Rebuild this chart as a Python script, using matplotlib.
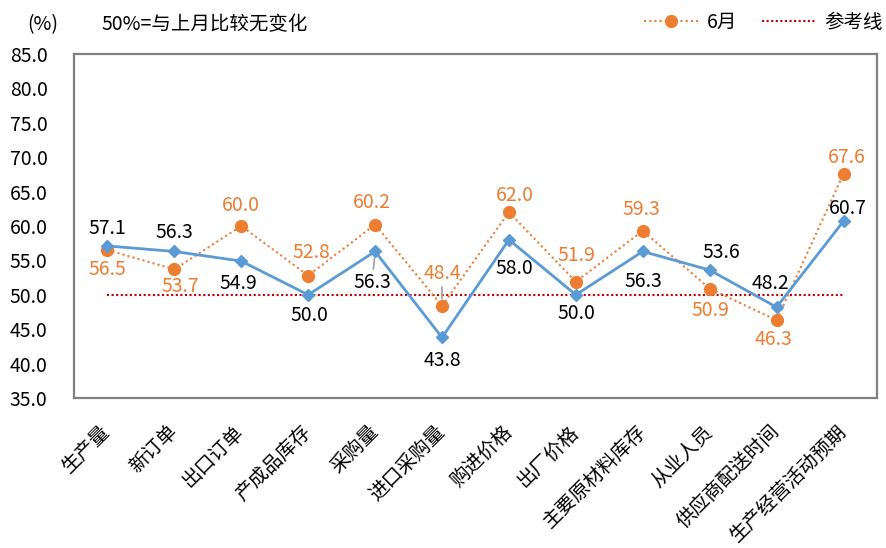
import matplotlib
matplotlib.use("Agg")
import matplotlib.pyplot as plt
from matplotlib.lines import Line2D

plt.rcParams['font.family'] = ['Noto Sans CJK SC', 'DejaVu Sans']

categories = ["生产量", "新订单", "出口订单", "产成品库存", "采购量", "进口采购量",
              "购进价格", "出厂价格", "主要原材料库存", "从业人员", "供应商配送时间", "生产经营活动预期"]
july = [57.1, 56.3, 54.9, 50.0, 56.3, 43.8, 58.0, 50.0, 56.3, 53.6, 48.2, 60.7]
june = [56.5, 53.7, 60.0, 52.8, 60.2, 48.4, 62.0, 51.9, 59.3, 50.9, 46.3, 67.6]
reference = [50.0] * len(categories)
yticks = [35, 40, 45, 50, 55, 60, 65, 70, 75, 80, 85]

# label offsets in pixels (dx, dy), dy positive = up
july_off = [(0, 17), (0, 19), (-3, -22), (1, -21), (-3, -31), (0, -23),
            (5, -29), (1, -19), (1, -30), (12, 18), (-6, 24), (4, 13)]
june_off = [(0, -19), (6, -17), (0, 20), (3, 23), (-3, 22), (0, 32),
            (6, 17), (1, 26), (-1, 21), (1, -22), (-3, -19), (3, 16)]
july_leader = [4]
june_leader = [5]

blue = '#5B9BD5'
orange = '#ED7D31'
red = '#C00000'

fig = plt.figure(figsize=(8.86, 5.48), dpi=100)
ax = fig.add_axes([0.0835, 0.2737, 0.9063, 0.6278])

x = list(range(len(categories)))
ax.plot(x, reference, linestyle=(0, (1, 1.2)), color=red, linewidth=1.5, zorder=1)
ax.plot(x, june, linestyle=(0, (1, 1.5)), color=orange, linewidth=1.5,
        marker='o', markersize=8.5, markerfacecolor=orange, markeredgecolor=orange, zorder=2)
ax.plot(x, july, linestyle='-', color=blue, linewidth=2,
        marker='D', markersize=6.5, markerfacecolor=blue, markeredgecolor=blue, zorder=3)

fs = 14
leader = dict(arrowstyle='-', color='#A0A0A0', lw=1.2, shrinkA=0, shrinkB=5)
for i, v in enumerate(july):
    dx, dy = july_off[i]
    kw = dict(arrowprops=leader) if i in july_leader else {}
    ax.annotate(f"{v:.1f}", (i, v), xytext=(dx, dy), textcoords='offset pixels',
                ha='center', va='center', fontsize=fs, color='black', **kw)
for i, v in enumerate(june):
    dx, dy = june_off[i]
    kw = dict(arrowprops=leader) if i in june_leader else {}
    ax.annotate(f"{v:.1f}", (i, v), xytext=(dx, dy), textcoords='offset pixels',
                ha='center', va='center', fontsize=fs, color=orange, **kw)

ax.set_xlim(-0.5, len(categories) - 0.5)
ax.set_ylim(35, 85)
ax.set_yticks(yticks)
ax.set_yticklabels([f"{t:.1f}" for t in yticks], fontsize=14)
ax.set_xticks(x)
ax.set_xticklabels(categories, rotation=45, ha='right', va='center',
                   rotation_mode='anchor', fontsize=14)
ax.tick_params(axis='y', length=0, pad=19)
ax.tick_params(axis='x', length=0, pad=22)
for s in ax.spines.values():
    s.set_color('#808080')
    s.set_linewidth(1.6)

fig.text(27 / 886, 1 - 25 / 548, "(%)", fontsize=14, va='center', ha='left')
fig.text(102 / 886, 1 - 25 / 548, "50%=与上月比较无变化", fontsize=14, va='center', ha='left')

handles = [
    Line2D([], [], linestyle=(0, (1, 1.5)), color=orange, linewidth=1.5, marker='o',
           markersize=8.5, markerfacecolor=orange, markeredgecolor=orange),
    Line2D([], [], linestyle=(0, (1, 1.2)), color=red, linewidth=1.5),
]
fig.legend(handles, ["6月", "参考线"], loc='center right',
           bbox_to_anchor=(883 / 886, 1 - 22 / 548),
           ncol=2, frameon=False, fontsize=14, handlelength=2.75, columnspacing=1.3,
           handletextpad=0.45, borderaxespad=0, borderpad=0)

fig.savefig("out.png", dpi=100)
